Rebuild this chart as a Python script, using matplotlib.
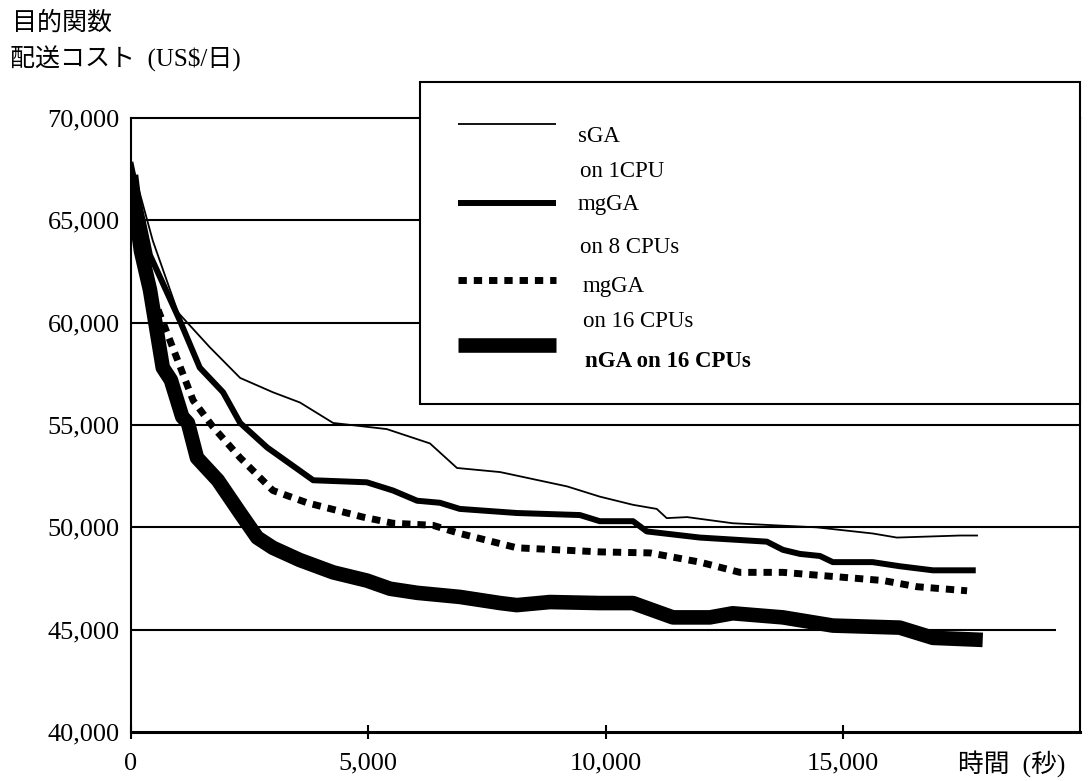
import matplotlib
matplotlib.use('Agg')
import matplotlib.pyplot as plt
from matplotlib.lines import Line2D
from matplotlib.patches import Rectangle

W, H = 1092, 781
plt.rcParams['font.family'] = ['Liberation Serif', 'Noto Sans CJK JP']

# time in seconds, cost in US$/day
sga_t = [0, 460, 990, 1660, 2300, 2990, 3560, 4260, 5390, 6300, 6870, 7780, 9190, 9880,
         10580, 11080, 11290, 11720, 12680, 14450, 15630, 16140, 17470, 17830]
sga_cost = [67900, 64000, 60500, 58800, 57300, 56600, 56100, 55100, 54800, 54100, 52900, 52700,
            52000, 51500, 51100, 50900, 50450, 50500, 50200, 50000, 49700, 49500, 49600, 49600]

mg8_t = [0, 400, 1030, 1450, 1940, 2300, 2870, 3840, 4970, 5520, 6030, 6510, 6930, 8130, 9460,
         9880, 10580, 10870, 11990, 13400, 13740, 14100, 14520, 14790, 15630, 16200, 16900, 17740]
mg8_cost = [67700, 63300, 60100, 57800, 56600, 55100, 53900, 52300, 52200, 51800, 51300, 51200,
            50900, 50700, 50600, 50300, 50300, 49800, 49500, 49300, 48900, 48700, 48600, 48300,
            48300, 48100, 47900, 47900]

mg16_t = [0, 460, 760, 1310, 1730, 2300, 2990, 3710, 4890, 5520, 6360, 6930, 8130, 9880, 10940,
          11990, 12830, 13740, 14790, 15850, 16560, 17620]
mg16_cost = [67200, 61300, 59500, 56200, 54900, 53400, 51800, 51200, 50500, 50200, 50100, 49700,
             49000, 48800, 48750, 48300, 47800, 47800, 47600, 47400, 47100, 46900]

nga_t = [0, 100, 210, 400, 670, 840, 1080, 1200, 1390, 1830, 2300, 2660, 2990, 3560, 4260, 4970,
         5460, 6030, 6930, 7780, 8130, 8830, 9880, 10580, 11000, 11420, 12200, 12680, 13740,
         14790, 16200, 16900, 17950]
nga_cost = [67200, 65300, 63500, 61600, 57800, 57200, 55400, 55100, 53400, 52300, 50700, 49500,
            49000, 48400, 47800, 47400, 47000, 46800, 46600, 46300, 46200, 46350, 46300, 46300,
            45950, 45600, 45600, 45800, 45600, 45200, 45100, 44600, 44500]

x_ticks = [0, 5000, 10000, 15000]
x_labels = ['0', '5,000', '10,000', '15,000']
y_ticks = [40000, 45000, 50000, 55000, 60000, 65000, 70000]
y_labels = ['40,000', '45,000', '50,000', '55,000', '60,000', '65,000', '70,000']
grid_levels = [45000, 50000, 55000, 60000, 65000]
grid_ends = [19500, 20000, 20000, 20000, 20000]

legend_lines = ['sGA\non 1CPU', 'mgGA\non 8 CPUs', 'mgGA\non 16 CPUs', 'nGA on 16 CPUs']


def px(x, y):
    """pixel position (from top left) to figure fraction"""
    return x / W, 1 - y / H


fig = plt.figure(figsize=(W / 100, H / 100), dpi=100)
ax = fig.add_axes([131 / W, 49 / H, 949 / W, 614 / H])

ax.hlines(grid_levels, 0, grid_ends, colors='black', lw=1.5, zorder=1)

ax.plot(sga_t, sga_cost, color='black', lw=1.3, zorder=3)
ax.plot(mg8_t, mg8_cost, color='black', lw=4.3, solid_joinstyle='round', zorder=3)
ax.plot(mg16_t, mg16_cost, color='black', lw=5, linestyle=(0, (1.2, 1.0)),
        dash_capstyle='butt', zorder=3)
ax.plot(nga_t, nga_cost, color='black', lw=10.5, solid_capstyle='butt',
        solid_joinstyle='round', zorder=3)

ax.set_xlim(0, 20000)
ax.set_ylim(40000, 70000)
ax.set_xticks(x_ticks)
ax.set_xticklabels(x_labels)
ax.set_yticks(y_ticks)
ax.set_yticklabels(y_labels)
ax.tick_params(axis='x', direction='inout', length=10, width=1.5, pad=10, labelsize=19)
ax.tick_params(axis='y', length=0, pad=8, labelsize=19)
for s in ax.spines.values():
    s.set_linewidth(1.5)
ax.spines['bottom'].set_linewidth(2.2)

# axis titles
fig.text(*px(12, 23), '目的関数', fontsize=18, va='center', ha='left')
fig.text(*px(10, 59), '配送コスト  (US\\$/日)', fontsize=18, va='center', ha='left')
fig.text(*px(958, 764), '時間  (秒)', fontsize=18.5, va='center', ha='left')

# legend box, drawn by hand like the original
x0, y0 = px(420, 404)
x1, y1 = px(1080, 82)
fig.add_artist(Rectangle((x0, y0), x1 - x0, y1 - y0, transform=fig.transFigure,
                         facecolor='white', edgecolor='black', lw=1.5, zorder=5))

samples = [
    dict(y=124, lw=1.3, ls='-'),
    dict(y=203, lw=4.3, ls='-'),
    dict(y=280, lw=5, ls=(0, (1.2, 1.0))),
    dict(y=345, lw=10.5, ls='-'),
]
for s in samples:
    xa, ya = px(458, s['y'])
    xb, _ = px(556, s['y'])
    fig.add_artist(Line2D([xa, xb], [ya, ya], transform=fig.transFigure, color='black',
                          lw=s['lw'], linestyle=s['ls'], solid_capstyle='butt',
                          dash_capstyle='butt', zorder=6))

text_rows = [(578, 142), (580, 177), (578, 210), (580, 253), (583, 292), (583, 327)]
parts = [p for lab in legend_lines[:3] for p in lab.split('\n')]
for (tx, ty), t in zip(text_rows, parts):
    fig.text(*px(tx, ty), t, fontsize=16.5, va='baseline', ha='left', zorder=7)
fig.text(*px(585, 367), legend_lines[3], fontsize=16.5, fontweight='bold',
         va='baseline', ha='left', zorder=7)

fig.savefig('out.png', dpi=100)
